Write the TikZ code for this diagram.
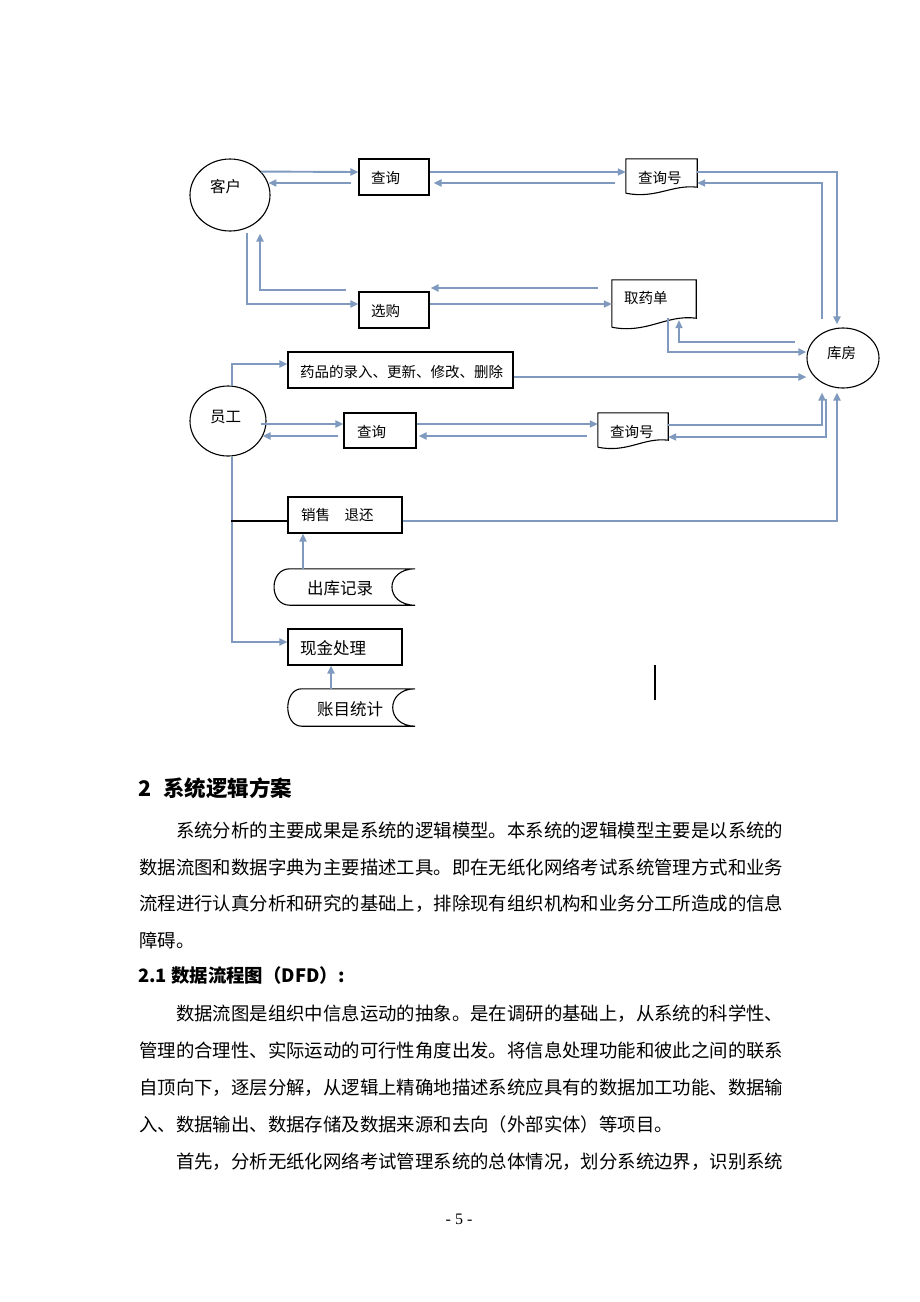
\documentclass[tikz,border=0pt]{standalone}
\usepackage{fontspec}
\setmainfont{Noto Sans CJK SC}
\newfontfamily\pnfont{Liberation Serif}
\usetikzlibrary{arrows.meta,shapes.geometric,calc}
\definecolor{flow}{RGB}{127,154,190}
\tikzset{
  arr/.style={draw=flow, line width=1.9pt, -{Triangle[length=8pt,width=7pt]}},
  blk/.style={draw=black, line width=1.1pt},
  ent/.style={draw=black, line width=1.1pt, ellipse, inner sep=0pt},
  proc/.style={draw=black, line width=1.1pt, rectangle, inner sep=0pt},
  ghost/.style={rectangle, inner sep=0pt},
  lbl/.style={font=\fontsize{14.5}{16}\selectfont, inner sep=0pt, anchor=west},
  lblc/.style={font=\fontsize{15.5}{17}\selectfont, inner sep=0pt, anchor=west},
  lblb/.style={font=\fontsize{16.5}{18}\selectfont, inner sep=0pt, anchor=west},
  para/.style={font=\fontsize{18.4}{20}\selectfont, inner sep=0pt, anchor=base west},
  head/.style={font=\bfseries\fontsize{21.5}{24}\selectfont, inner sep=0pt, anchor=base west},
  subhead/.style={font=\bfseries\fontsize{18.4}{20}\selectfont, inner sep=0pt, anchor=base west},
}
\begin{document}
\begin{tikzpicture}[x=1pt,y=-1pt]
\fill[white] (0,0) rectangle (920,1302);
\useasboundingbox (0,0) rectangle (920,1302);

% ---------- nodes ----------
\node[ent, minimum width=80pt, minimum height=72pt] (kh) at (230,195) {};
\node[proc, minimum width=70pt, minimum height=36pt] (q1) at (394,177) {};
\node[ghost, minimum width=71pt, minimum height=34pt] (d1) at (661.5,176) {};
\node[proc, minimum width=70pt, minimum height=36pt] (xg) at (394,310) {};
\node[ghost, minimum width=84pt, minimum height=47pt] (qy) at (654,303.5) {};
\node[ent, minimum width=72pt, minimum height=60pt] (kf) at (843,358) {};
\node[proc, minimum width=225pt, minimum height=36pt] (yp) at (400.5,370) {};
\node[ent, minimum width=76pt, minimum height=70pt] (yg) at (228,421) {};
\node[proc, minimum width=72pt, minimum height=35pt] (q2) at (380,430.5) {};
\node[ghost, minimum width=70pt, minimum height=34pt] (d2) at (633,430) {};
\node[proc, minimum width=114pt, minimum height=36pt] (xs) at (345,515) {};
\node[ghost, minimum width=141pt, minimum height=36pt] (ck) at (344.5,587) {};
\node[proc, minimum width=114pt, minimum height=36pt] (xj) at (345,647) {};
\node[ghost, minimum width=127pt, minimum height=37pt] (zm) at (351.5,707.5) {};

% document shapes
\draw[blk] (d1.south west) -- (d1.north west) -- (d1.north east) -- ($(d1.south east)+(0,-6)$)
  .. controls ($(d1.south east)+(-25,-9)$) and ($(d1.south west)+(30,6)$) .. (d1.south west);
\draw[blk] (qy.south west) -- (qy.north west) -- (qy.north east) -- ($(qy.south east)+(0,-9)$)
  .. controls ($(qy.south east)+(-30,-13)$) and ($(qy.south west)+(35,7)$) .. (qy.south west);
\draw[blk] (d2.south west) -- (d2.north west) -- (d2.north east) -- ($(d2.south east)+(0,-7)$)
  .. controls ($(d2.south east)+(-25,-10)$) and ($(d2.south west)+(30,6)$) .. (d2.south west);

% stored data shapes
\draw[blk] ($(ck.north west)+(16,0)$) -- (ck.north east)
  .. controls ($(ck.north east)+(-31,0)$) and ($(ck.south east)+(-31,0)$) .. (ck.south east)
  -- ($(ck.south west)+(16,0)$)
  .. controls ($(ck.south west)+(-5,0)$) and ($(ck.north west)+(-5,0)$) .. cycle;
\draw[blk] ($(zm.north west)+(14,0)$) -- (zm.north east)
  .. controls ($(zm.north east)+(-30,0)$) and ($(zm.south east)+(-30,0)$) .. (zm.south east)
  -- ($(zm.south west)+(14,0)$)
  .. controls ($(zm.south west)+(-4.7,0)$) and ($(zm.north west)+(-4.7,0)$) .. cycle;

% labels
\node[lblc] (tkh) at (210,187) {客户};
\node[lbl] (tq1) at (371,178) {查询};
\node[lbl] (td1) at (638,178) {查询号};
\node[lbl] (txg) at (371,311) {选购};
\node[lbl] (tqy) at (624,298) {取药单};
\node[lbl] (tkf) at (827,353) {库房};
\node[lbl] (typ) at (300,372) {药品的录入、更新、修改、删除};
\node[lblc] (tyg) at (210,417) {员工};
\node[lbl] (tq2) at (357,432) {查询};
\node[lbl] (td2) at (610,432) {查询号};
\node[lbl] (txs) at (301,515) {销售　退还};
\node[lblb] (tck) at (307,588) {出库记录};
\node[lblb] (txj) at (300,648) {现金处理};
\node[lblb] (tzm) at (317,709) {账目统计};

% ---------- connectors ----------
\draw[arr] (kh.37) -- ($(q1.west)+(0,-5)$);
\coordinate (c2) at ($(q1.west)+(-7,6)$);
\draw[arr] (c2) -- (c2 -| kh.17);
\draw[arr] ($(q1.east)+(0,-5)$) -- ($(d1.west)+(0,-4)$);
\draw[arr] ($(d1.west)+(-11,7)$) -- ($(q1.east)+(4,6)$);
\draw[arr] ($(d1.east)+(0,-4)$) -| ($(kf.north)+(-6,-3)$);
\draw[arr] ($(kf.north)+(-21,-8)$) |- ($(d1.east)+(0,7)$);

\draw[arr] ($(kh.south)+(17,1)$) |- ($(xg.west)+(0,-6)$);
\draw[arr] ($(xg.west)+(-12,-20)$) -| ($(kh.south)+(30,2)$);
\draw[arr] ($(xg.east)+(0,-6)$) -- ($(qy.west)+(0,0.5)$);
\draw[arr] ($(qy.west)+(-14,-15.5)$) -- ($(xg.east)+(1,-22)$);
\draw[arr] ($(qy.south)+(14,-9)$) |- ($(kf.west)+(0,-6)$);
\draw[arr] ($(kf.west)+(-11,-16)$) -| ($(qy.south)+(25,-7)$);

\draw[arr] ($(yg.north)+(4,1)$) |- ($(yp.west)+(0,-6)$);
\draw[arr] ($(yp.east)+(0,7)$) -- ($(kf.west)+(0,19)$);
\draw[arr] ($(yg.east)+(-6,3)$) -- ($(q2.west)+(0,-6.5)$);
\draw[arr] ($(q2.west)+(-5,5.5)$) -- ($(yg.east)+(-4,15)$);
\draw[arr] ($(q2.east)+(0,-6.5)$) -- ($(d2.west)+(0,-6)$);
\draw[arr] ($(d2.west)+(-11,6)$) -- ($(q2.east)+(2,5.5)$);
\draw[arr] ($(d2.east)+(0,-5)$) -| ($(kf.south)+(-21,4)$);
\draw[arr] ($(kf.south)+(-17,10)$) |- ($(d2.east)+(0,7)$);
\draw[arr] ($(xs.east)+(0,6)$) -| ($(kf.south)+(-6,4)$);

\draw[arr] ($(yg.south)+(4,0)$) |- ($(xj.west)+(0,-5)$);
\draw[blk] ($(xs.west)+(-56,6)$) -- ($(xs.west)+(0,6)$);
\draw[arr] ($(ck.north)+(-41.5,0)$) -- ($(xs.south)+(-42,0)$);
\draw[arr] ($(zm.north)+(-20.5,0)$) -- ($(xj.south)+(-14,0)$);

\coordinate (bar1) at (655,665);
\coordinate (bar2) at (655,700);
\draw[draw=black, line width=1.2pt] (bar1) -- (bar2);

% ---------- text ----------
\node[head] (h2) at (138,796) {2\hspace{12pt}系统逻辑方案};
\node[para] (p1) at (175.8,837) {系统分析的主要成果是系统的逻辑模型。本系统的逻辑模型主要是以系统的};
\node[para] (p2) at (139,874) {数据流图和数据字典为主要描述工具。即在无纸化网络考试系统管理方式和业务};
\node[para] (p3) at (139,910) {流程进行认真分析和研究的基础上，排除现有组织机构和业务分工所造成的信息};
\node[para] (p4) at (139,947) {障碍。};
\node[subhead] (h21) at (138,982) {2.1 数据流程图（DFD）:};
\node[para] (p5) at (175.8,1020) {数据流图是组织中信息运动的抽象。是在调研的基础上，从系统的科学性、};
\node[para] (p6) at (139,1057) {管理的合理性、实际运动的可行性角度出发。将信息处理功能和彼此之间的联系};
\node[para] (p7) at (139,1094) {自顶向下，逐层分解，从逻辑上精确地描述系统应具有的数据加工功能、数据输};
\node[para] (p8) at (139,1131) {入、数据输出、数据存储及数据来源和去向（外部实体）等项目。};
\node[para] (p9) at (175.8,1168) {首先，分析无纸化网络考试管理系统的总体情况，划分系统边界，识别系统};
\node[font=\pnfont\fontsize{16}{18}\selectfont, inner sep=0pt] (pn) at (459,1219) {- 5 -};
\end{tikzpicture}
\end{document}
